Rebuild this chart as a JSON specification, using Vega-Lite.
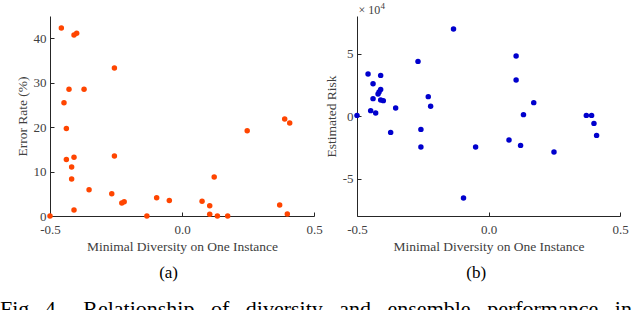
{
  "$schema": "https://vega.github.io/schema/vega-lite/v6.json",
  "background": "white",
  "padding": {"left": 0, "top": 2, "right": 0, "bottom": -10},
  "bounds": "flush",
  "spacing": 43,
  "title": {
    "text": "Fig.\u00a0\u20094.\u00a0\u00a0\u00a0\u00a0Relationship\u00a0\u00a0\u00a0of\u00a0\u00a0\u00a0diversity\u00a0\u00a0\u00a0and\u00a0\u00a0\u00a0ensemble\u00a0\u00a0\u00a0performance\u00a0\u00a0\u00a0in",
    "orient": "bottom",
    "anchor": "start",
    "frame": "bounds",
    "font": "Liberation Serif",
    "fontSize": 22,
    "fontWeight": "normal",
    "color": "black",
    "dx": -15,
    "offset": 18
  },
  "datasets": {
    "errorData": [
      {"diversity": -0.457, "error": 42.3},
      {"diversity": -0.409, "error": 40.7},
      {"diversity": -0.399, "error": 41.1},
      {"diversity": -0.256, "error": 33.3},
      {"diversity": -0.428, "error": 28.5},
      {"diversity": -0.371, "error": 28.5},
      {"diversity": -0.447, "error": 25.5},
      {"diversity": -0.438, "error": 19.7},
      {"diversity": 0.247, "error": 19.2},
      {"diversity": 0.389, "error": 21.8},
      {"diversity": 0.408, "error": 20.9},
      {"diversity": -0.438, "error": 12.7},
      {"diversity": -0.409, "error": 13.2},
      {"diversity": -0.256, "error": 13.5},
      {"diversity": -0.418, "error": 11.0},
      {"diversity": -0.418, "error": 8.3},
      {"diversity": 0.122, "error": 8.8},
      {"diversity": -0.352, "error": 5.9},
      {"diversity": -0.266, "error": 5.0},
      {"diversity": -0.228, "error": 2.9},
      {"diversity": -0.219, "error": 3.2},
      {"diversity": -0.096, "error": 4.1},
      {"diversity": -0.048, "error": 3.5},
      {"diversity": 0.076, "error": 3.3},
      {"diversity": 0.105, "error": 2.3},
      {"diversity": 0.105, "error": 0.4},
      {"diversity": 0.134, "error": 0.0},
      {"diversity": 0.173, "error": 0.0},
      {"diversity": -0.409, "error": 1.35},
      {"diversity": -0.5, "error": 0.0},
      {"diversity": -0.133, "error": 0.0},
      {"diversity": 0.37, "error": 2.5},
      {"diversity": 0.399, "error": 0.45}
    ],
    "riskData": [
      {"diversity": -0.5, "risk": 500},
      {"diversity": -0.458, "risk": 33600},
      {"diversity": -0.448, "risk": 4300},
      {"diversity": -0.439, "risk": 25800},
      {"diversity": -0.439, "risk": 13900},
      {"diversity": -0.429, "risk": 2400},
      {"diversity": -0.42, "risk": 17600},
      {"diversity": -0.416, "risk": 19200},
      {"diversity": -0.41, "risk": 21300},
      {"diversity": -0.41, "risk": 32500},
      {"diversity": -0.41, "risk": 12800},
      {"diversity": -0.4, "risk": 12300},
      {"diversity": -0.353, "risk": 6400},
      {"diversity": -0.372, "risk": -13100},
      {"diversity": -0.268, "risk": 43700},
      {"diversity": -0.229, "risk": 15500},
      {"diversity": -0.22, "risk": 7800},
      {"diversity": -0.257, "risk": -10700},
      {"diversity": -0.257, "risk": -24800},
      {"diversity": -0.133, "risk": 69600},
      {"diversity": -0.049, "risk": -24800},
      {"diversity": 0.105, "risk": 48000},
      {"diversity": 0.105, "risk": 28800},
      {"diversity": 0.172, "risk": 10700},
      {"diversity": 0.133, "risk": 1100},
      {"diversity": 0.078, "risk": -19200},
      {"diversity": 0.122, "risk": -23500},
      {"diversity": 0.249, "risk": -28800},
      {"diversity": 0.372, "risk": 500},
      {"diversity": 0.392, "risk": 500},
      {"diversity": 0.401, "risk": -5900},
      {"diversity": 0.411, "risk": -15500},
      {"diversity": -0.095, "risk": -65600}
    ]
  },
  "hconcat": [
    {
      "width": 264,
      "height": 200,
      "title": {"text": "(a)", "orient": "bottom", "anchor": "middle", "frame": "bounds", "fontSize": 17, "font": "Liberation Serif", "fontWeight": "normal", "color": "black", "offset": 12},
      "data": {"name": "errorData"},
      "mark": {"type": "circle", "size": 30, "opacity": 1, "color": "#FF4500"},
      "encoding": {
        "x": {"field": "diversity", "type": "quantitative", "scale": {"domain": [-0.5, 0.5], "nice": false, "zero": false},
              "axis": {"values": [-0.5, 0, 0.5], "title": "Minimal Diversity on One Instance", "labelExpr": "replace(datum.label, '\u2212', '-')"}},
        "y": {"field": "error", "type": "quantitative", "scale": {"domain": [0, 45], "nice": false},
              "axis": {"values": [0, 10, 20, 30, 40], "title": "Error Rate (%)"}}
      }
    },
    {
      "width": 263,
      "height": 200,
      "title": {"text": "(b)", "orient": "bottom", "anchor": "middle", "frame": "bounds", "fontSize": 17, "font": "Liberation Serif", "fontWeight": "normal", "color": "black", "offset": 12},
      "layer": [
        {
          "data": {"name": "riskData"},
          "mark": {"type": "circle", "size": 30, "opacity": 1, "color": "#0000CD"},
          "encoding": {
            "x": {"field": "diversity", "type": "quantitative", "scale": {"domain": [-0.5, 0.5], "nice": false, "zero": false},
                  "axis": {"values": [-0.5, 0, 0.5], "title": "Minimal Diversity on One Instance", "labelExpr": "replace(datum.label, '\u2212', '-')"}},
            "y": {"field": "risk", "type": "quantitative", "scale": {"domain": [-80000, 80000], "nice": false, "zero": false},
                  "axis": {"values": [-50000, 0, 50000], "title": "Estimated Risk", "labelExpr": "datum.value < 0 ? '-' + abs(datum.value / 10000) : '' + (datum.value / 10000)"}}
          }
        },
        {
          "data": {"values": [{"label": "\u00d7 10"}]},
          "mark": {"type": "text", "align": "left", "baseline": "alphabetic", "fontSize": 12, "font": "Liberation Serif", "color": "#404040", "dx": 1.5, "dy": -2},
          "encoding": {
            "x": {"datum": -0.5, "type": "quantitative"},
            "y": {"datum": 80000, "type": "quantitative"},
            "text": {"field": "label"}
          }
        },
        {
          "data": {"values": [{"label": "4"}]},
          "mark": {"type": "text", "align": "left", "baseline": "alphabetic", "fontSize": 9, "font": "Liberation Serif", "color": "#404040", "dx": 23.5, "dy": -7},
          "encoding": {
            "x": {"datum": -0.5, "type": "quantitative"},
            "y": {"datum": 80000, "type": "quantitative"},
            "text": {"field": "label"}
          }
        }
      ]
    }
  ],
  "config": {
    "font": "Liberation Serif",
    "view": {"stroke": null},
    "axis": {
      "grid": false,
      "domainColor": "#262626",
      "tickColor": "#262626",
      "labelColor": "#404040",
      "titleColor": "#404040",
      "labelFont": "Liberation Serif",
      "titleFont": "Liberation Serif",
      "labelFontSize": 13,
      "titleFontSize": 13.5,
      "titleFontWeight": "normal",
      "tickSize": -4,
      "labelFlush": false
    },
    "axisX": {"labelPadding": 11, "titlePadding": 3},
    "axisY": {"labelPadding": 8, "titlePadding": 4}
  }
}
